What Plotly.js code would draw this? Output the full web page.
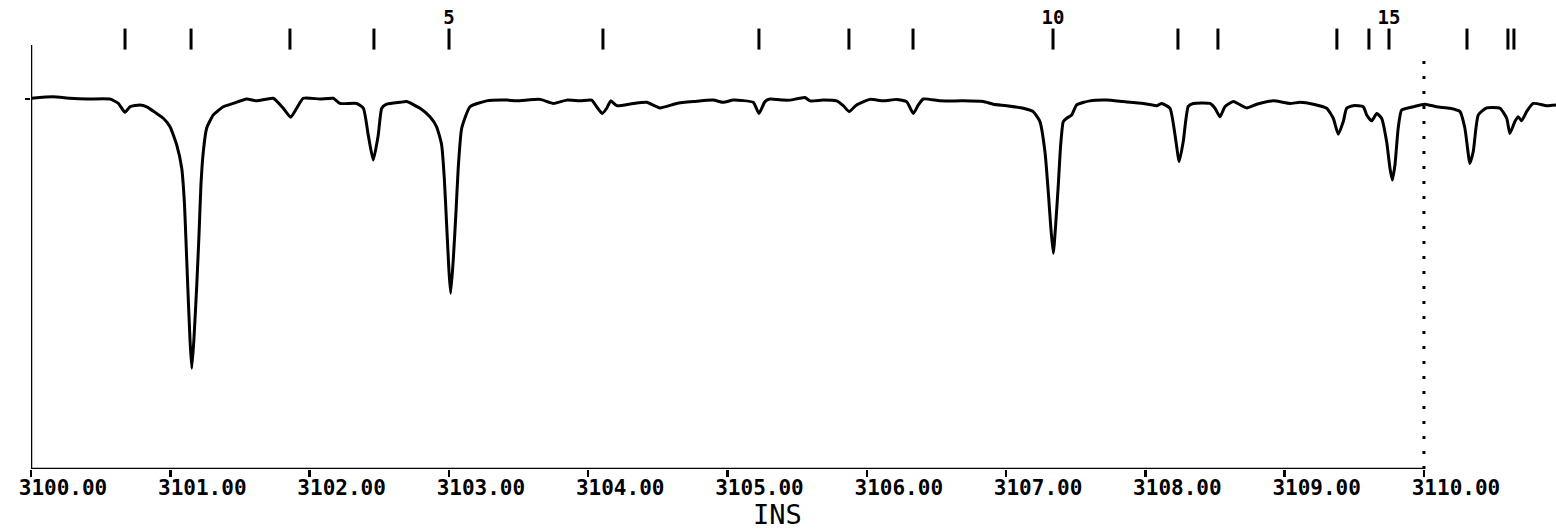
<!DOCTYPE html>
<html>
<head>
<meta charset="utf-8">
<script src="https://cdn.plot.ly/plotly-3.0.1.min.js"></script>
<style>
html,body{margin:0;padding:0;background:#fff;}
#chart{width:1556px;height:531px;}
</style>
</head>
<body>
<div id="chart"></div>
<script>
// Wavenumber (x) and relative transmission (y) of the spectrum trace
const wavenumber = [
3100.005,3100.158,3100.280,3100.402,3100.567,3100.627,3100.675,3100.711,3100.782,3100.831,
3100.902,3100.950,3100.998,3101.046,3101.082,3101.101,3101.111,3101.125,3101.141,3101.154,
3101.170,3101.190,3101.206,3101.220,3101.237,3101.261,3101.309,3101.380,3101.452,3101.548,
3101.620,3101.739,3101.811,3101.864,3101.907,3101.955,3102.075,3102.170,3102.218,3102.338,
3102.386,3102.421,3102.457,3102.493,3102.518,3102.553,3102.649,3102.697,3102.793,3102.864,
3102.912,3102.948,3102.967,3102.984,3103.001,3103.013,3103.032,3103.051,3103.067,3103.092,
3103.152,3103.271,3103.415,3103.487,3103.654,3103.750,3103.846,3103.941,3104.025,3104.061,
3104.101,3104.133,3104.162,3104.205,3104.324,3104.420,3104.515,3104.635,3104.755,3104.898,
3104.970,3105.042,3105.185,3105.226,3105.269,3105.305,3105.401,3105.449,3105.556,3105.592,
3105.688,3105.784,3105.831,3105.874,3105.927,3106.023,3106.118,3106.215,3106.286,3106.334,
3106.370,3106.406,3106.526,3106.693,3106.836,3106.908,3107.004,3107.124,3107.195,3107.243,
3107.279,3107.303,3107.320,3107.339,3107.356,3107.375,3107.392,3107.411,3107.435,3107.471,
3107.507,3107.602,3107.722,3107.841,3107.985,3108.081,3108.117,3108.177,3108.213,3108.243,
3108.272,3108.308,3108.344,3108.464,3108.500,3108.536,3108.571,3108.631,3108.727,3108.799,
3108.918,3109.038,3109.110,3109.206,3109.302,3109.349,3109.385,3109.421,3109.445,3109.493,
3109.564,3109.589,3109.625,3109.661,3109.696,3109.732,3109.756,3109.773,3109.792,3109.815,
3109.840,3109.923,3110.007,3110.091,3110.187,3110.259,3110.294,3110.330,3110.354,3110.390,
3110.450,3110.546,3110.594,3110.617,3110.653,3110.677,3110.701,3110.737,3110.785,3110.881,
3110.948
];
const transmission = [
100.2,100.6,100.2,100.0,100.0,98.8,96.4,97.9,98.4,97.9,
96.1,94.8,92.5,87.6,81.3,72.2,63.2,49.7,35.3,27.2,
35.3,49.7,63.2,76.8,85.8,92.1,95.7,97.9,98.8,100.0,
99.5,100.2,97.5,95.1,97.5,100.2,100.0,100.2,98.8,98.8,
97.5,90.3,83.5,90.3,97.5,98.6,99.1,99.3,97.5,95.2,
92.5,87.6,78.6,65.9,53.3,47.5,56.9,69.5,81.3,92.1,
97.9,99.5,99.7,99.5,99.9,98.8,99.7,99.5,99.7,97.9,
96.1,97.5,99.5,98.2,98.8,99.1,97.6,98.8,99.3,99.7,
99.1,99.7,99.1,96.1,99.3,100.0,99.7,99.7,100.4,99.5,
99.7,99.5,98.2,96.6,98.4,99.9,99.5,99.9,99.3,96.1,
98.4,100.0,99.5,99.5,99.3,98.6,98.2,97.5,96.6,93.9,
85.8,74.9,65.9,58.3,65.9,76.8,87.6,93.9,94.8,95.7,
98.4,99.5,99.7,99.3,98.8,98.2,98.8,97.5,90.3,83.1,
88.5,98.0,98.8,98.8,97.5,95.2,97.9,99.3,97.6,98.6,
99.5,98.8,99.1,98.6,97.5,94.8,90.5,93.9,97.5,98.2,
97.9,95.7,94.1,96.1,94.8,88.5,81.3,78.1,82.2,92.1,
97.0,97.9,98.6,97.9,97.5,96.6,92.1,82.6,85.8,95.7,
97.6,97.5,94.8,90.7,93.9,95.2,94.1,96.6,98.8,98.2,
98.4
];

// Line-identification markers along the top
const lineMarkers = [
3100.675,3101.149,3101.859,3102.462,3103.001,3104.106,3105.226,3105.872,3106.332,3107.337,
3108.234,3108.521,3109.375,3109.605,3109.749,3110.309,3110.603,3110.646
];
const lineMarkerLabels = ["","","","","5","","","","","10","","","","","15","","",""];

// Axis ticks
const xTickVals = [3100,3101,3102,3103,3104,3105,3106,3107,3108,3109,3110];
const xTickText = ["3100.00","3101.00","3102.00","3103.00","3104.00","3105.00","3106.00","3107.00","3108.00","3109.00","3110.00"];
const axisTitle = "INS";
const cursorX = 3110;

const markerLevel = 116.2;   // y-level of the top marker row
const frameTop = 114.6;      // top of the left frame line
const yMax = 126.76;

const traces = [
  {
    x: wavenumber, y: transmission, type: 'scatter', mode: 'lines',
    line: {color: '#000', width: 3, shape: 'spline', smoothing: 0.5},
    hoverinfo: 'skip', showlegend: false
  },
  {
    x: lineMarkers, y: lineMarkers.map(() => markerLevel),
    type: 'scatter', mode: 'markers+text',
    text: lineMarkerLabels, textposition: 'top center',
    textfont: {family: 'DejaVu Sans Mono', size: 19, color: '#000', weight: 'bold'},
    marker: {symbol: 'line-ns', size: 15, color: '#000', line: {color: '#000', width: 3}},
    cliponaxis: false, hoverinfo: 'skip', showlegend: false
  }
];

const layout = {
  width: 1556, height: 531,
  margin: {l: 31, r: 0, t: 0, b: 62, pad: 0},
  paper_bgcolor: '#fff', plot_bgcolor: '#fff',
  showlegend: false,
  xaxis: {
    range: [3100, 3110.948], showgrid: false, zeroline: false, showline: false,
    tickmode: 'array', tickvals: xTickVals, ticktext: xTickText,
    ticks: 'outside', ticklen: 7, tickwidth: 2.5, tickcolor: '#000',
    ticklabelshift: 32, ticklabelstandoff: -7,
    tickfont: {family: 'DejaVu Sans Mono', size: 21, color: '#000', weight: 'bold'},
    fixedrange: true
  },
  yaxis: {
    range: [0, yMax], showgrid: false, zeroline: false, showline: false,
    tickmode: 'array', tickvals: [100], ticks: 'outside', ticklen: 5, tickwidth: 2.5, tickcolor: '#000',
    showticklabels: false, fixedrange: true
  },
  shapes: [
    {type: 'line', xref: 'x', yref: 'y', x0: xTickVals[0], x1: xTickVals[xTickVals.length - 1], y0: 0, y1: 0,
     line: {color: '#000', width: 2.5}},
    {type: 'line', xref: 'x', yref: 'y', x0: xTickVals[0], x1: xTickVals[0], y0: 0, y1: frameTop,
     line: {color: '#000', width: 2.5}},
    {type: 'line', xref: 'x', yref: 'y', x0: cursorX, x1: cursorX, y0: 0, y1: 111.4,
     line: {color: '#000', width: 3, dash: '3px,12px'}}
  ],
  annotations: [
    {text: axisTitle, xref: 'x', yref: 'paper', x: 3105.36, y: -0.098,
     xanchor: 'center', yanchor: 'middle', showarrow: false,
     font: {family: 'DejaVu Sans Mono', size: 27, color: '#000'}}
  ]
};

Plotly.newPlot('chart', traces, layout, {displayModeBar: false, staticPlot: true});
</script>
</body>
</html>
